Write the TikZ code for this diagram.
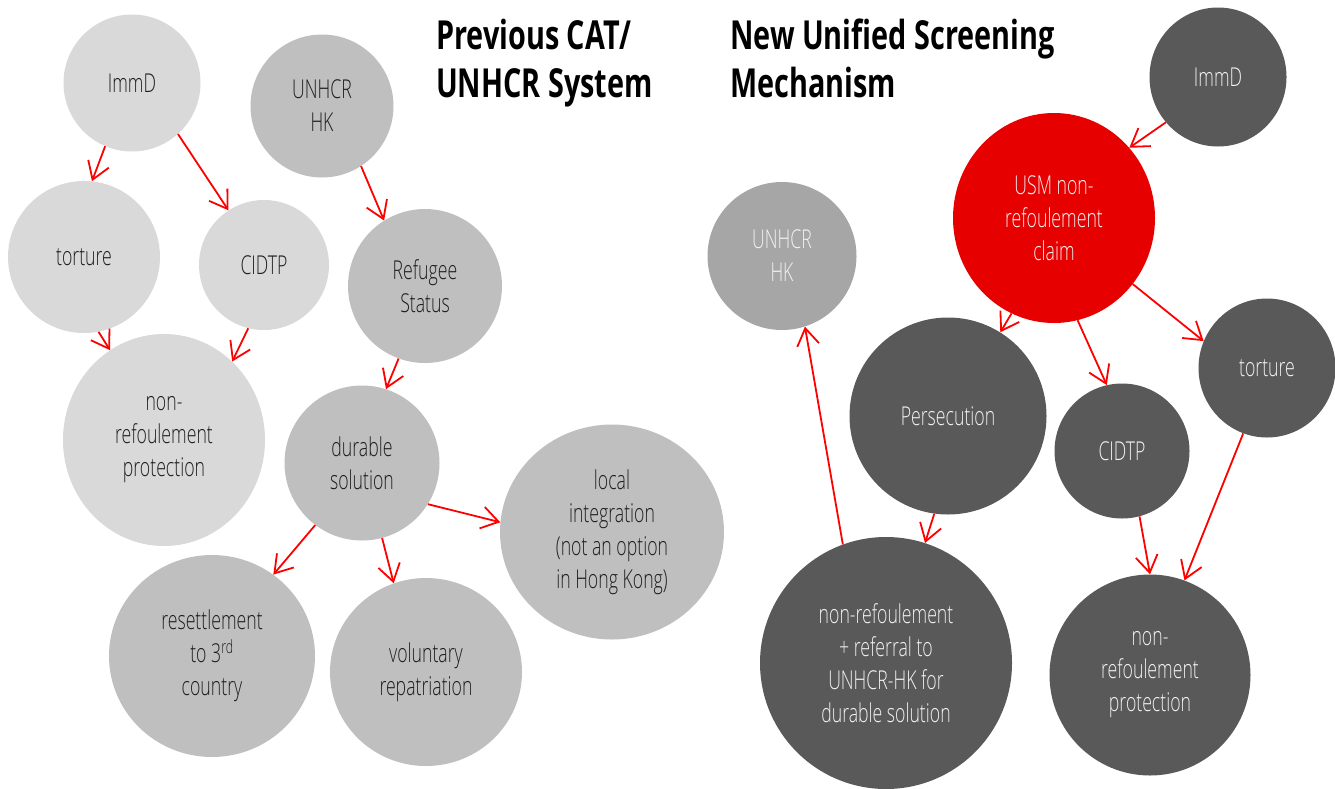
\documentclass[tikz,border=0pt]{standalone}
\usepackage{fontspec}
\setmainfont{Open Sans}[UprightFont=* Light, FakeStretch=0.68]
\newfontfamily\headfont{Open Sans}[FakeStretch=0.72]
\usepackage{tikz}
\usetikzlibrary{arrows.meta, shapes.geometric}

\definecolor{paleGray}{HTML}{D9D9D9}
\definecolor{midGray}{HTML}{BFBFBF}
\definecolor{softGray}{HTML}{A6A6A6}
\definecolor{darkGray}{HTML}{595959}
\definecolor{usmRed}{HTML}{E60000}
\definecolor{inkDark}{HTML}{1E1E1E}
\definecolor{inkLight}{HTML}{F2F2F2}

\begin{document}
\begin{tikzpicture}[x=1pt, y=-1pt, >={Straight Barb[length=17pt,width=22pt]},
    bubble/.style={ellipse, inner sep=0pt, align=center, font=\fontsize{26}{33}\selectfont},
    sz/.style 2 args={minimum width=#1pt, minimum height=#2pt},
    pale/.style={bubble, fill=paleGray, text=inkDark},
    mid/.style={bubble, fill=midGray, text=inkDark},
    soft/.style={bubble, fill=softGray, text=inkLight},
    dark/.style={bubble, fill=darkGray, text=inkLight},
    hot/.style={bubble, fill=usmRed, text=inkLight},
    flow/.style={->, red, line width=1.8pt},
    heading/.style={anchor=base west, inner sep=0pt, font=\headfont\bfseries\fontsize{40}{48}\selectfont}]

    \useasboundingbox (0,0) rectangle (1335,788);

    % Titles
    \node (oldA) [heading] at (436,49) {Previous CAT/};
    \node (oldB) [heading] at (436,97) {UNHCR System};
    \node (newA) [heading] at (730,49) {New Unified Screening};
    \node (newB) [heading] at (730,97) {Mechanism};

    % Previous system
    \node (immdL) [pale, sz={137}{137}] at (132,83) {ImmD};
    \node (unhcrL) [mid, sz={143}{143}] at (322,106) {UNHCR\\HK};
    \node (tortL) [pale, sz={152}{152}] at (84,257) {torture};
    \node (cidtpL) [pale, sz={130}{130}] at (264,265) {CIDTP};
    \node (refugee) [mid, sz={154}{154}] at (425,286) {Refugee\\Status};
    \node (protL) [pale, sz={202}{212}] at (164,440) {non-\\refoulement\\protection};
    \node (durable) [mid, sz={155}{155}] at (362,463) {durable\\solution};
    \node (local) [mid, sz={224}{215}] at (612,532) {local\\integration\\(not an option\\in Hong Kong)};
    \node (resettle) [mid, sz={206}{202}] at (212,656) {resettlement\\to 3\textsuperscript{rd}\\country};
    \node (volrep) [mid, sz={192}{188}] at (426,672) {voluntary\\repatriation};

    % Unified screening mechanism
    \node (immdR) [dark, sz={137}{139}] at (1218,77) {ImmD};
    \node (usm) [hot, sz={202}{210}] at (1054,218) {USM non-\\refoulement\\claim};
    \node (unhcrR) [soft, sz={149}{148}] at (782,256) {UNHCR\\HK};
    \node (persec) [dark, sz={197}{197}] at (948,416) {Persecution};
    \node (cidtpR) [dark, sz={135}{135}] at (1122,451) {CIDTP};
    \node (tortR) [dark, sz={137}{139}] at (1267,368) {torture};
    \node (referral) [dark, sz={252}{252}] at (886,663) {non-refoulement\\+ referral to\\UNHCR-HK for\\durable solution};
    \node (protR) [dark, sz={201}{201}] at (1150,675) {non-\\refoulement\\protection};

    % Arrows, previous system
    \draw[flow] (immdL.247) -- (tortL.84);
    \draw[flow] (immdL.312) -- (cidtpL.123);
    \draw[flow] (unhcrL.303) -- (refugee.122);
    \draw[flow] (tortL.281) -- (protL.121);
    \draw[flow] (cidtpL.256) -- (protL.49);
    \draw[flow] (refugee.250) -- (durable.72);
    \draw[flow] (durable.233) -- (resettle.53);
    \draw[flow] (durable.285) -- (volrep.110);
    \draw[flow] (durable.328) -- (local.175);

    % Arrows, unified screening mechanism
    \draw[flow] (immdR.221) -- (usm.43);
    \draw[flow] (usm.246) -- (persec.58);
    \draw[flow] (usm.283) -- (cidtpR.103);
    \draw[flow] (usm.320) -- (tortR.157);
    \draw[flow] (persec.262) -- (referral.72);
    \draw[flow] (cidtpR.285) -- (protR.90);
    \draw[flow] (tortR.250) -- (protR.70);
    \draw[flow] (referral.110) -- (unhcrR.288);

\end{tikzpicture}
\end{document}
